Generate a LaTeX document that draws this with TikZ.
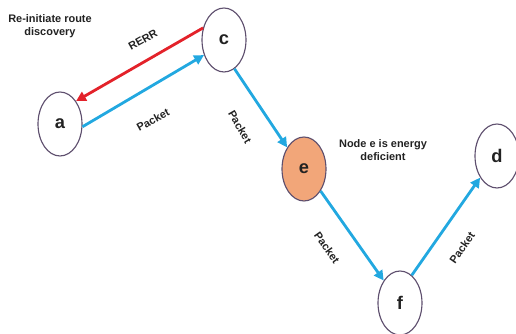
\documentclass[tikz,border=0pt]{standalone}
\usepackage{fontspec}
\setmainfont{Liberation Sans}
\usepackage{tikz}
\usetikzlibrary{shapes.geometric, arrows.meta, positioning, calc}
\usepackage{xcolor}
\definecolor{skyblue}{HTML}{22A8E0}
\definecolor{alertred}{HTML}{E3222A}
\definecolor{peach}{HTML}{F2A679}
\definecolor{rim}{HTML}{5E4F6E}
\definecolor{ink}{HTML}{222222}

\begin{document}
\begin{tikzpicture}[
  hop/.style={ellipse, draw=rim, line width=0.8pt, fill=white, minimum width=1.1cm,
    minimum height=1.6cm, inner sep=0pt, font=\fontsize{13}{15}\selectfont\bfseries, text=ink},
  note/.style={align=center, font=\fontsize{7.8}{9.5}\selectfont\bfseries, text=ink, inner sep=1pt},
  arr/.style={-{Triangle[length=7pt, width=7pt]}, line width=2pt},
]
  \useasboundingbox (0,0) rectangle (12.9,-8.35);

  % route nodes
  \node[hop] (a) at (1.5,-3.1) {a};
  \node[hop] (c) at (5.6,-1.0) {c};
  \node[hop, fill=peach] (e) at (7.6,-4.225) {e};
  \node[hop] (f) at (10.0,-7.575) {f};
  \node[hop] (d) at (12.425,-3.9) {d};

  % notes
  \node[note] (rediscover) at (1.25,-0.65) {Re-initiate route\\discovery};
  \node[note] (lowenergy) at (9.575,-3.75) {Node e is energy\\deficient};

  % link labels
  \node[note, rotate=29] (lrerr) at (3.575,-1.0) {RERR};
  \node[note, rotate=29] (lac) at (3.825,-3.0) {Packet};
  \node[note, rotate=-60] (lce) at (6.0,-3.175) {Packet};
  \node[note, rotate=-55] (lef) at (8.175,-6.2) {Packet};
  \node[note, rotate=55] (lfd) at (11.55,-6.2) {Packet};

  % links
  \draw[arr, alertred] (c.150) -- (a.55);
  \draw[arr, skyblue] (a.-7) -- (c.217);
  \draw[arr, skyblue] (c.-70) -- (e.128);
  \draw[arr, skyblue] (e.-53) -- (f.126);
  \draw[arr, skyblue] (f.67) -- (d.232);
\end{tikzpicture}
\end{document}
